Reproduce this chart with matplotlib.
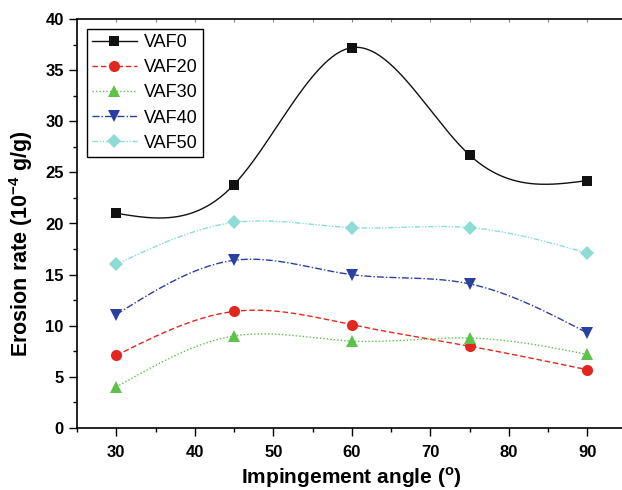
import numpy as np
import matplotlib
matplotlib.use("Agg")
import matplotlib.pyplot as plt
from matplotlib.ticker import MultipleLocator

angles = [30, 45, 60, 75, 90]
vaf0 = [21.0, 23.8, 37.2, 26.7, 24.2]
vaf20 = [7.1, 11.4, 10.1, 8.0, 5.7]
vaf30 = [4.0, 9.0, 8.5, 8.8, 7.2]
vaf40 = [11.1, 16.4, 15.0, 14.1, 9.3]
vaf50 = [16.0, 20.1, 19.6, 19.6, 17.1]
labels = ["VAF0", "VAF20", "VAF30", "VAF40", "VAF50"]


def natural_spline(x, y, n=300):
    x = np.asarray(x, float)
    y = np.asarray(y, float)
    k = len(x)
    h = np.diff(x)
    A = np.zeros((k, k))
    b = np.zeros(k)
    A[0, 0] = 1
    A[-1, -1] = 1
    for i in range(1, k - 1):
        A[i, i - 1] = h[i - 1]
        A[i, i] = 2 * (h[i - 1] + h[i])
        A[i, i + 1] = h[i]
        b[i] = 6 * ((y[i + 1] - y[i]) / h[i] - (y[i] - y[i - 1]) / h[i - 1])
    M = np.linalg.solve(A, b)
    xs = np.linspace(x[0], x[-1], n)
    ys = np.empty_like(xs)
    for j, xv in enumerate(xs):
        i = min(np.searchsorted(x, xv, side="right") - 1, k - 2)
        i = max(i, 0)
        t1 = x[i + 1] - xv
        t0 = xv - x[i]
        ys[j] = (M[i] * t1 ** 3 / (6 * h[i]) + M[i + 1] * t0 ** 3 / (6 * h[i])
                 + (y[i] / h[i] - M[i] * h[i] / 6) * t1
                 + (y[i + 1] / h[i] - M[i + 1] * h[i] / 6) * t0)
    return xs, ys


plt.rcParams["font.family"] = ["Liberation Sans", "DejaVu Sans"]
fig = plt.figure(figsize=(6.22, 4.9), dpi=100)
ax = fig.add_axes([77 / 622, 62 / 490, 549.5 / 622, 409 / 490])

series = [vaf0, vaf20, vaf30, vaf40, vaf50]
colors = ["#111111", "#e2281e", "#5cc24a", "#2a3f9f", "#8edcd6"]
styles = ["-", (0, (4, 2)), (0, (1, 1.5)), (0, (5, 1.5, 1, 1.5)), (0, (4, 1.2, 1, 1.2, 1, 1.2))]
markers = ["s", "o", "^", "v", "D"]
msizes = [7, 8, 8, 8, 7]

for vals, c, ls, m, ms, lab in zip(series, colors, styles, markers, msizes, labels):
    xs, ys = natural_spline(angles, vals)
    ax.plot(xs, ys, color=c, linestyle=ls, linewidth=1.0, zorder=2)
    ax.plot(angles, vals, linestyle="none", marker=m, color=c, markersize=ms,
            markeredgewidth=0, zorder=3)
    ax.plot([], [], color=c, linestyle=ls, linewidth=1.0, marker=m,
            markersize=ms, markeredgewidth=0, label=lab)

ax.set_xlim(25, 95)
ax.set_ylim(0, 40)
ax.xaxis.set_major_locator(MultipleLocator(10))
ax.xaxis.set_minor_locator(MultipleLocator(5))
ax.yaxis.set_major_locator(MultipleLocator(5))
ax.yaxis.set_minor_locator(MultipleLocator(2.5))
ax.set_xticks([30, 40, 50, 60, 70, 80, 90])
ax.tick_params(which="major", direction="out", length=6, width=1.0,
               labelsize=12)
ax.tick_params(which="minor", direction="out", length=3, width=1.0)
ax.tick_params(axis="x", pad=6)
for lbl in ax.get_xticklabels() + ax.get_yticklabels():
    lbl.set_fontweight("bold")
ax.spines["right"].set_visible(False)
for s in ["left", "bottom", "top"]:
    ax.spines[s].set_linewidth(1.2)

sec = ax.secondary_xaxis("top")
sec.set_xticks(np.arange(30, 95, 5))
sec.tick_params(direction="in", length=2, width=0.8, color="#888888",
                labeltop=False)
sec.spines["top"].set_visible(False)

ax.set_xlabel("Impingement angle ($^{\\mathregular{o}}$)", fontsize=15,
              fontweight="bold", labelpad=4)
ax.set_ylabel("Erosion rate (10$^{\\mathregular{-4}}$ g/g)", fontsize=15.5,
              fontweight="bold")
ax.yaxis.set_label_coords(-0.077, 0.45)

leg = ax.legend(loc="upper left", bbox_to_anchor=(0.018, 0.976), borderaxespad=0,
                fontsize=13, handlelength=2.45, labelspacing=0.45,
                fancybox=False, framealpha=1, edgecolor="black",
                borderpad=0.3, handletextpad=0.4)
leg.get_frame().set_linewidth(1.0)

fig.savefig("out.png", dpi=100)
